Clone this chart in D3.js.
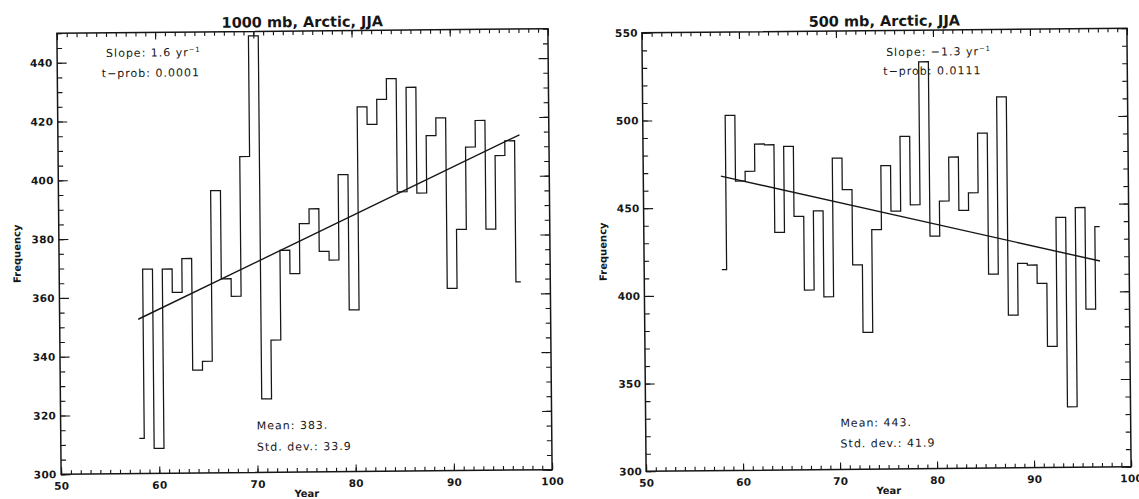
<!DOCTYPE html>
<html><head><meta charset="utf-8">
<script src="https://cdn.jsdelivr.net/npm/d3@7/dist/d3.min.js"></script>
<style>
html,body{margin:0;padding:0;background:#fff;}
svg{display:block;}
</style></head>
<body>
<script>
// ---------------- data ----------------
const years = [58,59,60,61,62,63,64,65,66,67,68,69,70,71,72,73,74,75,76,77,
               78,79,80,81,82,83,84,85,86,87,88,89,90,91,92,93,94,95,96,97];
const freq1000 = [312,369.5,308.5,369.5,361.5,373,335,338,396,366,
                  360,407.5,448.5,325,345,375.5,367.5,384.5,389.5,375,
                  372,401,355,424,418,426.5,433.5,395,430.5,394.5,
                  414,420,362,382,410,419,382,407,412,364];
const freq500 = [414.5,502.5,465,470.5,486,485.5,435.5,484.5,444.5,402.5,
                 447.5,398.5,477.5,459.5,416.5,378,436.5,473,447,489.5,
                 450.5,532,432.5,452.5,477.5,447,457,491,410.5,511.5,
                 387,416.5,415.5,405,369,442.5,334.5,448,390,437];
const fitYears = [58, 97];
const fit1000 = [352.5, 414];
const fit500 = [467.9, 417.4];
const xTicks = [50,60,70,80,90,100];
const yTicks1000 = [300,320,340,360,380,400,420,440];
const yTicks500 = [300,350,400,450,500,550];
const titles = ["1000 mb, Arctic, JJA", "500 mb, Arctic, JJA"];
const slopes = ["1.6", "\u22121.3"];
const tprobs = ["0.0001", "0.0111"];
const means = ["383.", "443."];
const stds = ["33.9", "41.9"];

// ---------------- drawing ----------------
const W = 1139, H = 499;
const svg = d3.select("body").append("svg").attr("width", W).attr("height", H);
svg.append("rect").attr("width", W).attr("height", H).attr("fill", "#fff");

const INK = "#161616";
const TILT = -0.55; // the scanned page is slightly rotated

const panels = [
  {left: 59, right: 550, top: 31, bot: 472, yDomain: [300,450], yTicks: yTicks1000, yMinor: 5,
   data: freq1000, fit: fit1000, title: titles[0], slope: slopes[0], tprob: tprobs[0],
   mean: means[0], std: stds[0],
   slopeX: 108, slopeY: 51, tX: 103.5, tY: 71.3, meanX: 255, meanY: 425, stdY: 446.3,
   freqX: 17, freqY: 251, yearY: 497, titleY: 27, yPad: 4.5},
  {left: 644, right: 1129, top: 30.5, bot: 469, yDomain: [300,550], yTicks: yTicks500, yMinor: 10,
   data: freq500, fit: fit500, title: titles[1], slope: slopes[1], tprob: tprobs[1],
   mean: means[1], std: stds[1],
   slopeX: 888, slopeY: 52, tX: 885, tY: 71, meanX: 838.7, meanY: 422.3, stdY: 443,
   freqX: 603, freqY: 249, yearY: 494, titleY: 26, yPad: 4}
];

function styleAxis(sel) {
  sel.select(".domain").remove();
  sel.selectAll(".tick line").attr("stroke", INK).attr("stroke-width", 1.1);
  sel.selectAll(".tick text").attr("fill", INK)
     .attr("font-family", "DejaVu Sans").attr("font-weight", "bold")
     .attr("font-size", "10.5px").attr("letter-spacing", "0.3px");
}

panels.forEach(p => {
  const cx = (p.left + p.right) / 2, cy = (p.top + p.bot) / 2;
  const g = svg.append("g").attr("transform", `rotate(${TILT},${cx},${cy})`);
  const x = d3.scaleLinear().domain([50,100]).range([p.left, p.right]);
  const y = d3.scaleLinear().domain(p.yDomain).range([p.bot, p.top]);
  const xMinor = d3.range(50, 101, 1);
  const yMinor = d3.range(p.yDomain[0], p.yDomain[1] + 0.001, p.yMinor);

  // minor ticks
  g.append("g").attr("transform", `translate(0,${p.bot})`)
    .call(d3.axisBottom(x).tickValues(xMinor).tickSize(-4).tickSizeOuter(0).tickFormat("")).call(styleAxis);
  g.append("g").attr("transform", `translate(0,${p.top})`)
    .call(d3.axisTop(x).tickValues(xMinor).tickSize(-4).tickSizeOuter(0).tickFormat("")).call(styleAxis);
  g.append("g").attr("transform", `translate(${p.left},0)`)
    .call(d3.axisLeft(y).tickValues(yMinor).tickSize(-5).tickSizeOuter(0).tickFormat("")).call(styleAxis);
  g.append("g").attr("transform", `translate(${p.right},0)`)
    .call(d3.axisRight(y).tickValues(yMinor).tickSize(-5).tickSizeOuter(0).tickFormat("")).call(styleAxis);

  // major ticks + labels
  g.append("g").attr("transform", `translate(0,${p.bot})`)
    .call(d3.axisBottom(x).tickValues(xTicks).tickSize(-7).tickSizeOuter(0).tickPadding(8).tickFormat(d3.format("d"))).call(styleAxis);
  g.append("g").attr("transform", `translate(0,${p.top})`)
    .call(d3.axisTop(x).tickValues(xTicks).tickSize(-7).tickSizeOuter(0).tickFormat("")).call(styleAxis);
  g.append("g").attr("transform", `translate(${p.left},0)`)
    .call(d3.axisLeft(y).tickValues(p.yTicks).tickSize(-9.5).tickSizeOuter(0).tickPadding(p.yPad).tickFormat(d3.format("d"))).call(styleAxis);
  g.append("g").attr("transform", `translate(${p.right},0)`)
    .call(d3.axisRight(y).tickValues(p.yTicks).tickSize(-9.5).tickSizeOuter(0).tickFormat("")).call(styleAxis);

  // frame
  g.append("rect").attr("x", p.left).attr("y", p.top)
    .attr("width", p.right - p.left).attr("height", p.bot - p.top)
    .attr("fill", "none").attr("stroke", INK).attr("stroke-width", 1.5);

  // histogram-style step line
  const pts = years.map((yr, i) => [yr, p.data[i]]);
  const step = d3.line().x(d => x(d[0])).y(d => y(d[1])).curve(d3.curveStep);
  g.append("path").attr("d", step(pts)).attr("fill", "none")
    .attr("stroke", INK).attr("stroke-width", 1.25);

  // trend line
  const fitPts = fitYears.map((yr, i) => [yr, p.fit[i]]);
  g.append("path").attr("d", d3.line().x(d => x(d[0])).y(d => y(d[1]))(fitPts))
    .attr("fill", "none").attr("stroke", INK).attr("stroke-width", 1.4);

  // title
  g.append("text").attr("x", cx).attr("y", p.titleY)
    .attr("text-anchor", "middle").attr("font-family", "DejaVu Sans").attr("font-weight", "bold")
    .attr("font-size", "14.5px").attr("fill", INK).text(p.title);

  // axis titles
  g.append("text").attr("x", cx).attr("y", p.yearY)
    .attr("text-anchor", "middle").attr("font-family", "DejaVu Sans").attr("font-weight", "bold")
    .attr("font-size", "10px").attr("fill", INK).text("Year");
  g.append("text").attr("transform", `translate(${p.freqX + 3.5},${p.freqY}) rotate(-90)`)
    .attr("text-anchor", "middle").attr("font-family", "DejaVu Sans").attr("font-weight", "bold")
    .attr("font-size", "10px").attr("fill", INK).text("Frequency");

  // annotations
  const ann = (tx, ty) => g.append("text").attr("x", tx).attr("y", ty + 4)
    .attr("font-family", "DejaVu Sans").attr("font-size", "11px")
    .attr("letter-spacing", "1px").attr("fill", INK);
  const s = ann(p.slopeX, p.slopeY);
  s.append("tspan").text("Slope: " + p.slope + " yr");
  s.append("tspan").attr("dy", -4).attr("font-size", "7px").attr("letter-spacing", "0.5px").text("\u22121");
  ann(p.tX, p.tY).text("t\u2212prob: " + p.tprob);
  ann(p.meanX, p.meanY).text("Mean: " + p.mean);
  ann(p.meanX, p.stdY).text("Std. dev.: " + p.std);
});
</script>
</body></html>
